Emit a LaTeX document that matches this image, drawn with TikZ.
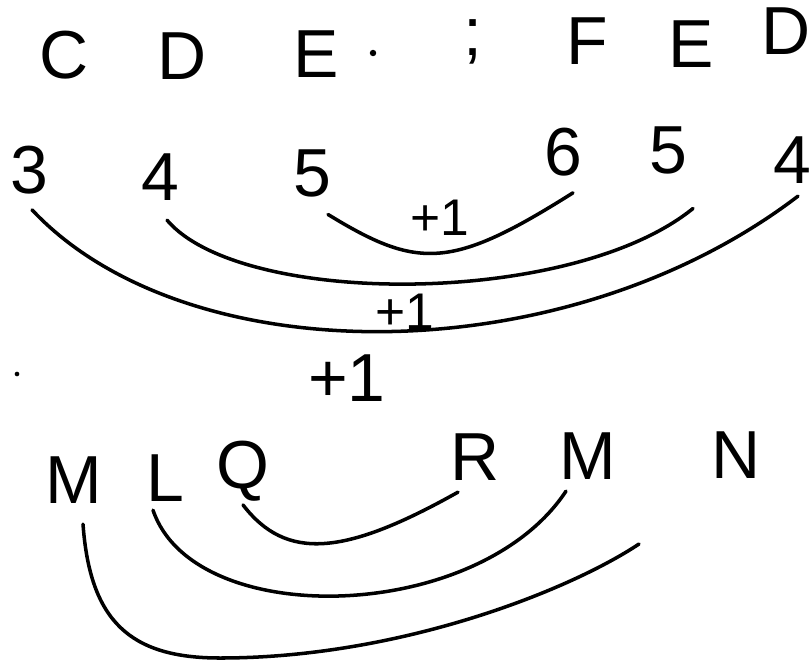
\documentclass[tikz,border=0pt]{standalone}
\usepackage{fontspec}
\setmainfont{Liberation Sans}
\setsansfont{Liberation Sans}
\begin{document}
\begin{tikzpicture}[x=0.03cm,y=-0.03cm,line width=3pt,line cap=round,
  every node/.style={inner sep=0pt,font=\fontsize{58}{60}\selectfont},
  small/.style={font=\fontsize{44}{46}\selectfont},
  speck/.style={circle,fill=black,minimum size=#1}]
  \useasboundingbox (0,0) rectangle (812,664);
  \node (noteC) at (64,55) {C};
  \node (noteD) at (182,56) {D};
  \node (noteE) at (316,54) {E};
  \node[speck=5.5pt] (dotE) at (373,53) {};
  \node (semi) at (473,42) {;};
  \node (noteF) at (587,41) {F};
  \node (noteEr) at (691,44) {E};
  \node (noteDr) at (786,31) {D};
  \node (d3) at (29,170) {3};
  \node (d4) at (160,177) {4};
  \node (d5) at (312,173) {5};
  \node (d6) at (563,152) {6};
  \node (d5r) at (668,150) {5};
  \node (d4r) at (792,160) {4};
  \node[small] (plusIn) at (440,218) {+1};
  \node[small] (plusOut) at (405,312) {+1};
  \node (plusMid) at (347,378) {+1};
  \node[speck=4pt] (dotL) at (17,374) {};
  \node (bM) at (74,480) {M};
  \node (bL) at (165,478) {L};
  \node (bQ) at (243,471) {Q};
  \node (bR) at (475,457) {R};
  \node (bMr) at (588,456) {M};
  \node (bN) at (736,455) {N};
  \coordinate (endOut) at (639,544);
  \draw ([shift={(16,16)}]d5.south) .. controls +(90,55) and +(-122,77) .. ([shift={(10,15)}]d6.south);
  \draw ([shift={(7,18)}]d4.south) .. controls +(74,87) and +(-122,99) .. ([shift={(25,33)}]d5r.south);
  \draw ([shift={(3,14)}]d3.south) .. controls +(155,165) and +(-233,178) .. ([shift={(6,11)}]d4r.south);
  \draw ([shift={(0,2)}]bQ.south) .. controls +(43,56) and +(-114,64) .. ([shift={(-17,10)}]bR.south);
  \draw ([shift={(-12,7)}]bL.south) .. controls +(41,121) and +(-88,133) .. ([shift={(-22,10)}]bMr.south);
  \draw ([shift={(9,19)}]bM.south) .. controls +(7,97) and +(-90,0) .. (220,658)
    .. controls +(180,0) and +(-69,46) .. (endOut);
\end{tikzpicture}
\end{document}
